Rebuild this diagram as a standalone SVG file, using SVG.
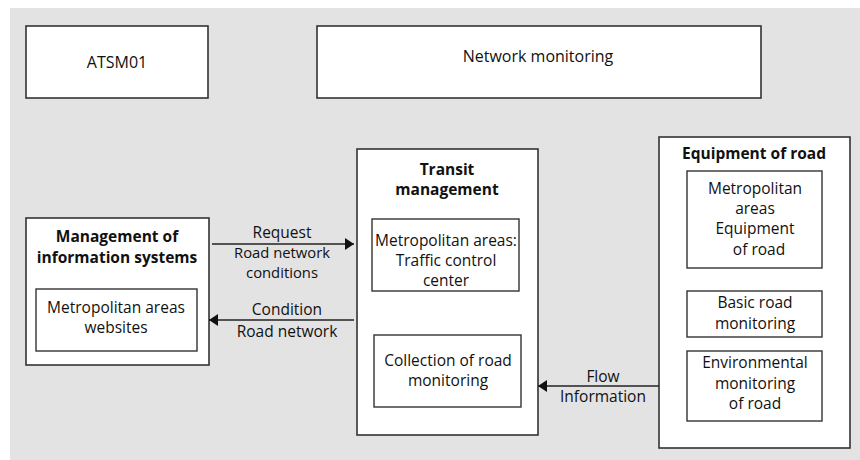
<svg xmlns="http://www.w3.org/2000/svg" width="860" height="460" viewBox="0 0 860 460">
<style>
.box{fill:#fff;stroke:#333;stroke-width:1.6}
.ibox{fill:#fff;stroke:#333;stroke-width:1.4}
text{font-family:"Open Sans","Liberation Sans",sans-serif;font-size:15.5px;fill:#111;text-anchor:middle}
.b{font-weight:bold;font-size:15.5px}
.big{font-size:16px}
.tight{font-size:14.8px}
.ln{stroke:#222;stroke-width:1.4;fill:none}
</style>
<defs>
<marker id="ah" viewBox="0 0 9 12" refX="9" refY="6" markerWidth="9" markerHeight="12" markerUnits="userSpaceOnUse" orient="auto">
<path d="M0,0 L9,6 L0,12 z" fill="#111"/>
</marker>
</defs>
<rect x="10" y="8" width="850" height="452" fill="#e3e3e3"/>
<g id="atsm01">
<rect class="box" x="26" y="26" width="182" height="72"/>
<text class="big" x="117" y="68">ATSM01</text>
</g>
<g id="network-monitoring">
<rect class="box" x="317" y="26" width="444" height="72"/>
<text class="big" x="538" y="62">Network monitoring</text>
</g>
<g id="transit-management">
<rect class="box" x="357" y="149" width="181" height="286"/>
<text class="b" x="447" y="175">Transit</text>
<text class="b" x="447" y="195">management</text>
<rect class="ibox" x="372" y="219" width="147" height="72"/>
<text x="446" y="246">Metropolitan areas:</text>
<text x="446" y="266">Traffic control</text>
<text x="446" y="286">center</text>
<rect class="ibox" x="374" y="335" width="147" height="72"/>
<text x="448" y="366">Collection of road</text>
<text x="448" y="386">monitoring</text>
</g>
<g id="management-info">
<rect class="box" x="26" y="218" width="183" height="147"/>
<text class="b" x="117" y="242">Management of</text>
<text class="b" x="117" y="263">information systems</text>
<rect class="ibox" x="36" y="289" width="161" height="62"/>
<text x="116" y="313">Metropolitan areas</text>
<text x="116" y="333">websites</text>
</g>
<g id="equipment-road">
<rect class="box" x="659" y="137" width="191" height="311"/>
<text class="b" x="754" y="159">Equipment of road</text>
<rect class="ibox" x="687" y="171" width="135" height="97"/>
<text x="755" y="194">Metropolitan</text>
<text x="755" y="214">areas</text>
<text x="755" y="234">Equipment</text>
<text x="759" y="255">of road</text>
<rect class="ibox" x="687" y="291" width="135" height="46"/>
<text x="755" y="308">Basic road</text>
<text x="755" y="329">monitoring</text>
<rect class="ibox" x="687" y="351" width="135" height="70"/>
<text x="755" y="368">Environmental</text>
<text x="755" y="389">monitoring</text>
<text x="755" y="409">of road</text>
</g>
<g id="connectors">
<line class="ln" x1="212" y1="244" x2="354" y2="244" marker-end="url(#ah)"/>
<text x="282" y="238">Request</text>
<text class="tight" x="282" y="258">Road network</text>
<text class="tight" x="282" y="278">conditions</text>
<line class="ln" x1="354" y1="320" x2="209" y2="320" marker-end="url(#ah)"/>
<text x="287" y="315">Condition</text>
<text x="287" y="337">Road network</text>
<line class="ln" x1="659" y1="386" x2="538" y2="386" marker-end="url(#ah)"/>
<text x="603" y="382">Flow</text>
<text x="603" y="402">Information</text>
</g>
</svg>
